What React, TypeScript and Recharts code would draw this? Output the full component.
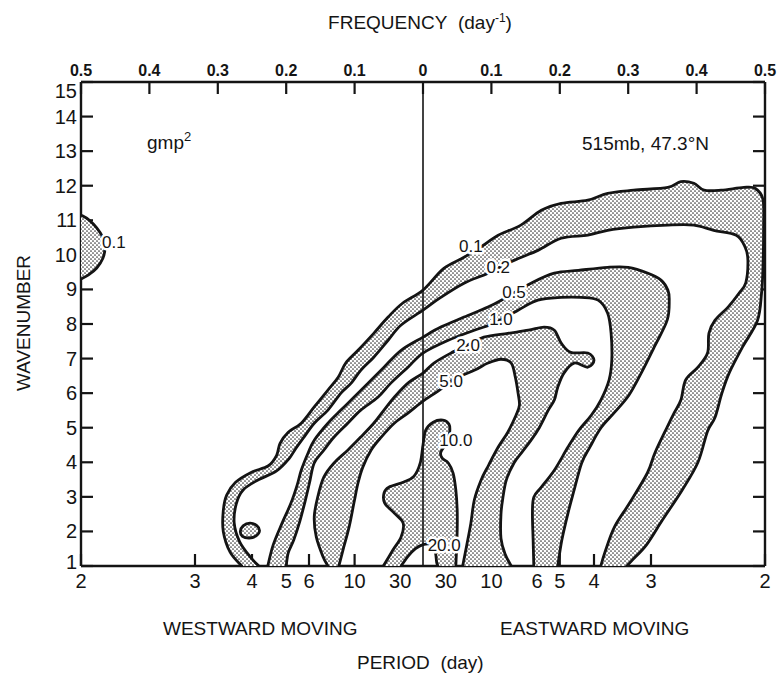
import React from 'react';
import { ScatterChart, Scatter, XAxis, YAxis } from 'recharts';

document.body.style.margin = '0';

// contour traces, [frequency (day^-1, west < 0), wavenumber]
const contour0_1 = [
  [-0.265, 1], [-0.282, 1.4], [-0.292, 2.0], [-0.292, 2.6], [-0.287, 3.05], [-0.274, 3.42], [-0.252, 3.7],
  [-0.226, 3.9], [-0.214, 4.2], [-0.209, 4.55], [-0.197, 4.87], [-0.178, 5.13], [-0.159, 5.6], [-0.139, 6.09],
  [-0.124, 6.46], [-0.113, 6.87], [-0.095, 7.24], [-0.072, 7.73], [-0.051, 8.2], [-0.03, 8.6], [0, 8.98],
  [0.03, 9.6], [0.06, 9.93], [0.09, 10.3], [0.11, 10.57], [0.143, 10.86], [0.173, 11.29], [0.202, 11.49],
  [0.241, 11.58], [0.27, 11.78], [0.308, 11.87], [0.358, 11.95], [0.377, 12.12], [0.396, 12.07], [0.411, 11.87],
  [0.436, 11.87], [0.469, 11.95], [0.486, 11.92], [0.497, 11.6], [0.498, 10.8], [0.497, 9.6], [0.495, 8.9],
  [0.489, 8.1], [0.467, 7.33], [0.448, 6.6], [0.437, 6.0], [0.427, 5.3], [0.416, 4.9], [0.402, 4.0],
  [0.379, 3.2], [0.35, 2.33], [0.327, 1.62], [0.306, 1.17], [0.298, 1],
];
const contour0_2 = [
  [-0.24, 1], [-0.252, 1.25], [-0.268, 1.7], [-0.276, 2.24], [-0.273, 2.8], [-0.263, 3.2], [-0.242, 3.48],
  [-0.214, 3.75], [-0.196, 4.1], [-0.186, 4.4], [-0.174, 4.73], [-0.159, 5.13], [-0.139, 5.51], [-0.12, 6.0],
  [-0.105, 6.29], [-0.091, 6.66], [-0.072, 7.04], [-0.051, 7.53], [-0.032, 7.97], [0, 8.4], [0.026, 8.77],
  [0.06, 9.18], [0.095, 9.47], [0.133, 9.84], [0.168, 10.13], [0.202, 10.48], [0.241, 10.57], [0.27, 10.71],
  [0.308, 10.8], [0.358, 10.86], [0.396, 10.86], [0.425, 10.71], [0.458, 10.57], [0.471, 10.22], [0.475, 9.84],
  [0.472, 9.2], [0.462, 8.89], [0.446, 8.49], [0.427, 8.11], [0.418, 7.73], [0.416, 7.16], [0.402, 6.75],
  [0.384, 6.38], [0.377, 5.8], [0.367, 5.42], [0.357, 5.02], [0.339, 4.27], [0.328, 3.69], [0.302, 2.82],
  [0.28, 2.13], [0.266, 1.4], [0.26, 1],
];
const contour0_5 = [
  [-0.227, 1], [-0.219, 1.61], [-0.206, 2.24], [-0.193, 2.82], [-0.184, 3.34], [-0.178, 3.77], [-0.168, 4.27],
  [-0.159, 4.64], [-0.139, 5.13], [-0.12, 5.51], [-0.101, 5.88], [-0.08, 6.29], [-0.057, 6.75], [-0.032, 7.24],
  [0, 7.62], [0.026, 7.91], [0.06, 8.2], [0.095, 8.49], [0.12, 8.75], [0.158, 9.18], [0.192, 9.47],
  [0.227, 9.55], [0.27, 9.64], [0.3, 9.64], [0.329, 9.47], [0.348, 9.27], [0.358, 8.98], [0.36, 8.69],
  [0.357, 8.11], [0.338, 7.33], [0.319, 6.58], [0.301, 5.94], [0.279, 5.42], [0.26, 4.99], [0.244, 4.44],
  [0.232, 3.98], [0.221, 3.2], [0.212, 2.53], [0.203, 1.75], [0.197, 1],
];
const contour1_0 = [
  [-0.2, 1], [-0.197, 1.38], [-0.189, 1.75], [-0.18, 2.3], [-0.172, 2.9], [-0.166, 3.4], [-0.159, 3.98],
  [-0.145, 4.35], [-0.13, 4.73], [-0.11, 5.13], [-0.091, 5.51], [-0.066, 5.88], [-0.047, 6.29], [-0.022, 6.75],
  [0, 7.16], [0.037, 7.53], [0.075, 7.82], [0.104, 8.02], [0.139, 8.4], [0.168, 8.69], [0.202, 8.77],
  [0.231, 8.77], [0.256, 8.69], [0.27, 8.31], [0.275, 7.73], [0.276, 6.95], [0.272, 6.38], [0.26, 5.8],
  [0.246, 5.36], [0.228, 4.93], [0.212, 4.44], [0.192, 3.77], [0.173, 3.28], [0.162, 2.99], [0.16, 2.53],
  [0.161, 1.75], [0.162, 1],
];
const contour2_0 = [
  [-0.139, 1], [-0.146, 1.26], [-0.156, 1.84], [-0.159, 2.42], [-0.154, 2.99], [-0.145, 3.57], [-0.13, 3.98],
  [-0.11, 4.35], [-0.091, 4.73], [-0.072, 5.13], [-0.057, 5.51], [-0.042, 5.88], [-0.022, 6.29], [0, 6.58],
  [0.016, 6.87], [0.04, 7.15], [0.066, 7.4], [0.089, 7.62], [0.124, 7.73], [0.154, 7.82], [0.177, 7.91],
  [0.192, 7.82], [0.202, 7.45], [0.216, 7.18], [0.241, 7.16], [0.25, 6.95], [0.241, 6.75], [0.221, 6.87],
  [0.206, 6.58], [0.197, 6.17], [0.192, 5.8], [0.183, 5.5], [0.17, 5.0], [0.158, 4.64], [0.145, 4.3],
  [0.133, 3.98], [0.122, 3.5], [0.117, 3.0], [0.114, 2.5], [0.114, 1.8], [0.12, 1.35], [0.129, 1],
];
const contour5_0 = [
  [-0.123, 1], [-0.117, 1.46], [-0.108, 2.13], [-0.101, 2.82], [-0.095, 3.4], [-0.088, 3.86], [-0.076, 4.35],
  [-0.061, 4.73], [-0.042, 5.13], [-0.022, 5.42], [0, 5.77], [0.022, 6.06], [0.048, 6.43], [0.075, 6.66],
  [0.095, 6.87], [0.114, 6.98], [0.129, 6.87], [0.135, 6.46], [0.139, 6.0], [0.141, 5.65], [0.136, 5.36],
  [0.124, 4.87], [0.11, 4.44], [0.096, 3.92], [0.085, 3.49], [0.075, 2.91], [0.07, 2.24], [0.064, 1.61],
  [0.058, 1],
];
const contour10 = [
  [-0.058, 1], [-0.044, 1.46], [-0.032, 1.84], [-0.029, 2.24], [-0.042, 2.53], [-0.056, 2.82], [-0.057, 3.11],
  [-0.05, 3.28], [-0.028, 3.43], [-0.013, 3.6], [-0.004, 3.98], [0, 4.5], [0.004, 4.93], [0.015, 5.16],
  [0.029, 5.22], [0.038, 5.1], [0.039, 4.87], [0.035, 4.58], [0.026, 4.29], [0.028, 4.12], [0.037, 3.98],
  [0.044, 3.69], [0.048, 3.2], [0.05, 2.62], [0.05, 2.04], [0.049, 1.46], [0.048, 1],
];
const contour20 = [
  [-0.032, 1], [-0.022, 1.28], [-0.011, 1.5], [0, 1.62], [0.012, 1.62], [0.018, 1.4], [0.02, 1.1], [0.022, 1],
];
// small closed islands
const islandWest0_1 = [
  [-0.5, 11.15], [-0.489, 11.02], [-0.477, 10.78], [-0.468, 10.5], [-0.465, 10.2], [-0.468, 9.9],
  [-0.477, 9.62], [-0.489, 9.42], [-0.5, 9.3],
];
const island0_5 = [
  [-0.253, 2.24], [-0.243, 2.17], [-0.239, 2.02], [-0.244, 1.87], [-0.254, 1.81], [-0.264, 1.86],
  [-0.267, 2.0], [-0.263, 2.16],
];

const contourLabels = [
  { f: 0.07, k: 10.25, text: '0.1' },
  { f: 0.11, k: 9.62, text: '0.2' },
  { f: 0.133, k: 8.9, text: '0.5' },
  { f: 0.114, k: 8.12, text: '1.0' },
  { f: 0.066, k: 7.38, text: '2.0' },
  { f: 0.041, k: 6.33, text: '5.0' },
  { f: 0.048, k: 4.64, text: '10.0' },
  { f: 0.031, k: 1.6, text: '20.0' },
  { f: -0.452, k: 10.35, text: '0.1' },
];

const freqTicks = [-0.5, -0.4, -0.3, -0.2, -0.1, 0, 0.1, 0.2, 0.3, 0.4, 0.5];
const periods = [2, 3, 4, 5, 6, 10, 30];
const waveTicks = [1, 2, 3, 4, 5, 6, 7, 8, 9, 10, 11, 12, 13, 14, 15];

const zeroLine = [[0, 1], [0, 15]];

const toPts = (a: number[][]) => a.map(([f, k]) => ({ f, k }));

const periodTicks = [...periods.map((p) => -1 / p), ...periods.slice().reverse().map((p) => 1 / p)];
const fmtPeriod = (v: number) => String(Math.round(1 / Math.abs(v)));
const fmtFreq = (v: number) => (v === 0 ? '0' : Math.abs(v).toFixed(1));

const W = 779;
const H = 673;
const FONT = '"Liberation Sans", Arial, Helvetica, sans-serif';
const INK = '#141414';

type P = { x: number; y: number };

// catmull-rom through the projected points
const smooth = (pts: P[], closed = false) => {
  const n = pts.length;
  if (n < 2) return '';
  const at = (i: number) => (closed ? pts[(i + n) % n] : pts[Math.max(0, Math.min(n - 1, i))]);
  let d = `M${pts[0].x},${pts[0].y}`;
  const segs = closed ? n : n - 1;
  for (let i = 0; i < segs; i++) {
    const p0 = at(i - 1), p1 = at(i), p2 = at(i + 1), p3 = at(i + 2);
    const c1x = p1.x + (p2.x - p0.x) / 6, c1y = p1.y + (p2.y - p0.y) / 6;
    const c2x = p2.x - (p3.x - p1.x) / 6, c2y = p2.y - (p3.y - p1.y) / 6;
    d += ` C${c1x},${c1y} ${c2x},${c2y} ${p2.x},${p2.y}`;
  }
  return closed ? d + ' Z' : d;
};

const hidden = () => <g />;

const bandFill = (split: number) => (props: any) => {
  const pts: P[] = props.points;
  const outer = pts.slice(0, split);
  const inner = pts.slice(split).reverse();
  const d = smooth(outer) + ' ' + smooth(inner).replace(/^M/, 'L') + ' Z';
  return <path d={d} fill="url(#stipple)" stroke="none" />;
};

const shapeFill = (closed: boolean) => (props: any) => (
  <path d={closed ? smooth(props.points, true) : smooth(props.points) + ' Z'} fill="url(#stipple)" stroke="none" />
);

const strokeLine = (closed: boolean, width = 2.8) => (props: any) => (
  <path d={smooth(props.points, closed)} fill="none" stroke={INK} strokeWidth={width} strokeLinejoin="round" strokeLinecap="round" />
);

const labelShape = (props: any) => (
  <text
    x={props.cx}
    y={props.cy}
    textAnchor="middle"
    dominantBaseline="central"
    fontFamily={FONT}
    fontSize={17}
    fill={INK}
    stroke="#fff"
    strokeWidth={5}
    paintOrder="stroke"
    strokeLinejoin="round"
  >
    {props.payload?.text}
  </text>
);

// the end labels of the wavenumber axis sit a little inside the frame
const WaveTick = (props: any) => {
  const v = props.payload?.value;
  const dy = v === 15 ? 9 : v === 1 ? -4 : 0;
  return (
    <text x={props.x} y={props.y + dy} textAnchor="end" dominantBaseline="central" fontSize={20} fill={INK} fontFamily={FONT}>
      {v}
    </text>
  );
};

const bands = [
  { outer: contour0_1, inner: contour0_2 },
  { outer: contour0_5, inner: contour1_0 },
  { outer: contour2_0, inner: contour5_0 },
  { outer: contour10, inner: contour20 },
];
const openLines = [contour0_1, contour0_2, contour0_5, contour1_0, contour2_0, contour5_0, contour10, contour20, islandWest0_1];

const axisLine = { stroke: INK, strokeWidth: 2.4 };
const tickLine = { stroke: INK, strokeWidth: 2.2 };

export default function App() {
  return (
    <div style={{ position: 'relative', width: W, height: H, background: '#fff' }}>
      <svg width={0} height={0} style={{ position: 'absolute' }}>
        <defs>
          <pattern id="stipple" width={4} height={4} patternUnits="userSpaceOnUse">
            <rect width={4} height={4} fill="#fff" />
            <circle cx={1} cy={1} r={0.85} fill="#3a3a3a" />
            <circle cx={3} cy={3} r={0.85} fill="#3a3a3a" />
          </pattern>
        </defs>
      </svg>
      <ScatterChart width={W} height={H} margin={{ top: 52, right: 0, bottom: 67, left: 41 }}>
        <XAxis
          xAxisId="bottom"
          orientation="bottom"
          type="number"
          dataKey="f"
          domain={[-0.5, 0.5]}
          allowDataOverflow
          ticks={periodTicks}
          interval={0}
          tickFormatter={fmtPeriod}
          height={40}
          axisLine={axisLine}
          tickLine={tickLine}
          tickSize={-12}
          tickMargin={20}
          tick={{ fontSize: 20, fill: INK, fontFamily: FONT }}
        />
        <XAxis
          xAxisId="top"
          orientation="top"
          type="number"
          dataKey="f"
          domain={[-0.5, 0.5]}
          allowDataOverflow
          ticks={freqTicks}
          interval={0}
          tickFormatter={fmtFreq}
          height={30}
          axisLine={axisLine}
          tickLine={tickLine}
          tickSize={-12}
          tickMargin={18}
          tick={{ fontSize: 16, fontWeight: 'bold', fill: INK, fontFamily: FONT }}
        />
        <YAxis
          yAxisId="left"
          type="number"
          dataKey="k"
          domain={[1, 15]}
          allowDataOverflow
          ticks={waveTicks}
          interval={0}
          width={40}
          axisLine={axisLine}
          tickLine={tickLine}
          tickSize={-12}
          tickMargin={16}
          tick={<WaveTick />}
        />
        <YAxis
          yAxisId="right"
          orientation="right"
          type="number"
          dataKey="k"
          domain={[1, 15]}
          allowDataOverflow
          ticks={waveTicks}
          interval={0}
          width={14}
          tickFormatter={() => ''}
          axisLine={axisLine}
          tickLine={tickLine}
          tickSize={-12}
        />

        {bands.map((b, i) => (
          <Scatter
            key={`band${i}`}
            xAxisId="bottom"
            yAxisId="left"
            data={toPts([...b.outer, ...b.inner])}
            shape={hidden}
            line={bandFill(b.outer.length)}
            isAnimationActive={false}
          />
        ))}
        <Scatter xAxisId="bottom" yAxisId="left" data={toPts(islandWest0_1)} shape={hidden} line={shapeFill(false)} isAnimationActive={false} />
        <Scatter xAxisId="bottom" yAxisId="left" data={toPts(island0_5)} shape={hidden} line={shapeFill(true)} isAnimationActive={false} />

        {openLines.map((c, i) => (
          <Scatter
            key={`line${i}`}
            xAxisId="bottom"
            yAxisId="left"
            data={toPts(c)}
            shape={hidden}
            line={strokeLine(false)}
            isAnimationActive={false}
          />
        ))}
        <Scatter xAxisId="bottom" yAxisId="left" data={toPts(island0_5)} shape={hidden} line={strokeLine(true)} isAnimationActive={false} />

        <Scatter xAxisId="top" yAxisId="right" data={toPts(zeroLine)} shape={hidden} line={strokeLine(false, 1.6)} isAnimationActive={false} />

        <Scatter xAxisId="bottom" yAxisId="left" data={contourLabels} shape={labelShape} isAnimationActive={false} />
      </ScatterChart>

      <svg
        width={W}
        height={H}
        style={{ position: 'absolute', left: 0, top: 0, pointerEvents: 'none' }}
        fontFamily={FONT}
        fill={INK}
      >
        <text x={420} y={29} textAnchor="middle" fontSize={19}>
          {'FREQUENCY\u00a0\u00a0(day'}
          <tspan dy={-7} fontSize={12}>-1</tspan>
          <tspan dy={7}>)</tspan>
        </text>
        <text transform="translate(30,323) rotate(-90)" textAnchor="middle" fontSize={19}>WAVENUMBER</text>
        <text x={163} y={635} fontSize={19}>WESTWARD MOVING</text>
        <text x={500} y={635} fontSize={19}>EASTWARD MOVING</text>
        <text x={357} y={669} fontSize={19}>{'PERIOD\u00a0\u00a0(day)'}</text>
        <text x={147} y={149} fontSize={19}>
          gmp<tspan dy={-8} fontSize={13}>2</tspan>
        </text>
        <text x={582} y={150} fontSize={19}>515mb, 47.3°N</text>
      </svg>
    </div>
  );
}
